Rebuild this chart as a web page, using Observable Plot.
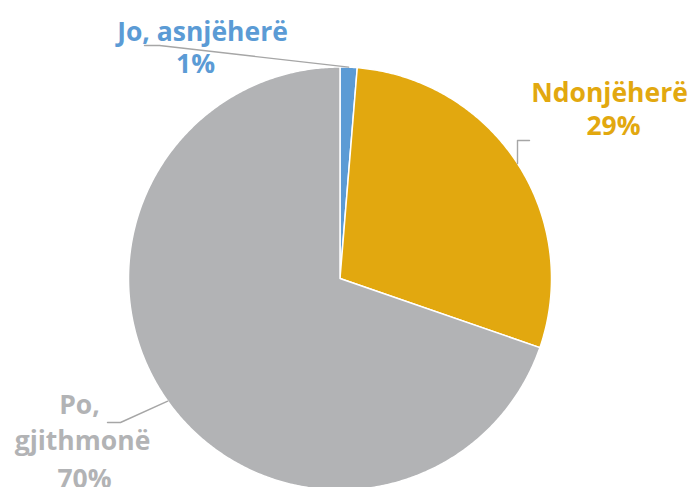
<!DOCTYPE html>
<html><head><meta charset="utf-8">
<script src="https://cdn.jsdelivr.net/npm/d3@7"></script>
<script src="https://cdn.jsdelivr.net/npm/@observablehq/plot@0.6"></script>
<style>html,body{margin:0;padding:0;background:#fff;overflow:hidden}</style>
</head><body><div id="chart"></div>
<script>
// ---- data ----
const categories = ["Jo, asnjëherë", "Ndonjëherë", "Po, gjithmonë"];
const values = [1.3, 29.0, 69.7];
const percentLabels = ["1%", "29%", "70%"];
const labelLines = [["Jo, asnjëherë", "1%"], ["Ndonjëherë", "29%"], ["Po,", "gjithmonë", "70%"]];
const colors = ["#5B9BD5", "#E2A80F", "#B2B3B5"];

// ---- layout (pixels -> data units) ----
const W = 691, H = 487, R = 211.5, CX = 339.5, CY = 278;
const dx = p => (p - CX) / R, dy = p => (CY - p) / R;
// label line anchors (center x, baseline y) in pixels
const labelPos = [
  [[202, 40], [195, 72]],
  [[609, 101], [613, 134]],
  [[79, 413], [82, 449], [84, 487]]
];
// leader elbows (pixels), beginning after slice edge point
const leaderElbows = [
  [[159, 45], [144, 45]],
  [[517, 140], [529, 140]],
  [[120, 422], [107, 422]]
];

const arcs = d3.pie().sort(null).value(d => d)(values);
const polys = [];
arcs.forEach((p, i) => {
  polys.push({cat: categories[i], x: 0, y: 0});
  const n = Math.max(2, Math.ceil((p.endAngle - p.startAngle) / (Math.PI / 360)));
  for (let k = 0; k <= n; k++) {
    const a = p.startAngle + (p.endAngle - p.startAngle) * k / n;
    polys.push({cat: categories[i], x: Math.sin(a), y: Math.cos(a)});
  }
  polys.push({cat: categories[i], x: 0, y: 0});
});

const leaders = [];
arcs.forEach((p, i) => {
  const m = (p.startAngle + p.endAngle) / 2;
  let start = {x: Math.sin(m), y: Math.cos(m)};
  if (i === 1) start = {x: dx(leaderElbows[1][0][0]), y: Math.sqrt(1 - dx(leaderElbows[1][0][0]) ** 2)};
  leaders.push({i, ...start});
  leaderElbows[i].forEach(([px, py]) => leaders.push({i, x: dx(px), y: dy(py)}));
});

const texts = [];
labelLines.forEach((lines, i) => lines.forEach((t, j) => {
  texts.push({cat: categories[i], text: t, x: dx(labelPos[i][j][0]), y: dy(labelPos[i][j][1])});
}));

const chart = Plot.plot({
  width: W, height: H,
  margin: 0,
  x: {domain: [dx(0), dx(W)], axis: null},
  y: {domain: [dy(H), dy(0)], axis: null},
  color: {domain: categories, range: colors},
  style: {background: "#fff", fontFamily: "'Open Sans', sans-serif", overflow: "hidden"},
  marks: [
    Plot.line(polys, {x: "x", y: "y", z: "cat", fill: "cat", stroke: "white", strokeWidth: 1.5, strokeOpacity: 1, curve: "linear"}),
    Plot.line(leaders, {x: "x", y: "y", z: "i", stroke: "#A6A6A6", strokeWidth: 1.4}),
    Plot.text(texts, {x: "x", y: "y", text: "text", fill: "cat", fontSize: 26.5, fontWeight: 700, fontFamily: "'Open Sans', sans-serif", lineAnchor: "bottom", textAnchor: "middle"})
  ]
});
document.getElementById("chart").appendChild(chart);
</script>
</body></html>
